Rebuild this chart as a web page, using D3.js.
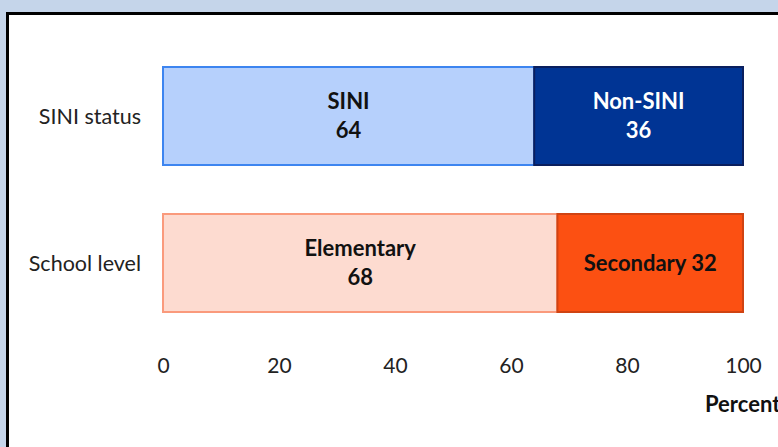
<!DOCTYPE html>
<html><head><meta charset="utf-8">
<script src="https://cdn.jsdelivr.net/npm/d3@7"></script>
<style>
html,body{margin:0;padding:0;background:#c5d5ea;}
svg{display:block;}
</style></head>
<body>
<svg id="chart" width="778" height="447"></svg>
<script>
const categories = ["SINI status", "School level"];
const firstLabels = ["SINI", "Elementary"];
const firstValues = [64, 68];
const secondLabels = ["Non-SINI", "Secondary"];
const secondValues = [36, 32];
const tickValues = [0, 20, 40, 60, 80, 100];
const axisTitle = "Percent";

const fills = [["#b6d0fc", "#003494"], ["#fddbd0", "#fc5012"]];
const strokes = [["#3d85f0", "#0a1f5e"], ["#fa9a7c", "#d04312"]];
const textColors = [["#111", "#fff"], ["#111", "#111"]];

const svg = d3.select("#chart");
const font = "Lato, 'Open Sans', sans-serif";

// panel
svg.append("rect").attr("x", 7.5).attr("y", 13.5).attr("width", 800).attr("height", 500)
  .attr("fill", "#fff").attr("stroke", "#000").attr("stroke-width", 3);

const x = d3.scaleLinear().domain([0, 100]).range([163, 743]);
const y = d3.scaleBand().domain(categories).range([67, 312]).paddingInner(1 / 3).paddingOuter(0);

const rows = categories.map((c, i) => ({
  cat: c, i,
  segs: [
    {label: firstLabels[i], v0: 0, v1: firstValues[i], k: 0},
    {label: secondLabels[i], v0: firstValues[i], v1: firstValues[i] + secondValues[i], k: 1}
  ]
}));

const g = svg.append("g");
rows.forEach(r => {
  const yy = y(r.cat), h = y.bandwidth();
  r.segs.forEach(s => {
    g.append("rect")
      .attr("x", x(s.v0)).attr("y", yy)
      .attr("width", x(s.v1) - x(s.v0)).attr("height", h)
      .attr("fill", fills[r.i][s.k]).attr("stroke", strokes[r.i][s.k]).attr("stroke-width", 2);
    const cx = (x(s.v0) + x(s.v1)) / 2, cy = yy + h / 2;
    const val = s.v1 - s.v0;
    const t = g.append("text").attr("x", cx).attr("text-anchor", "middle")
      .attr("font-family", font).attr("font-weight", "bold").attr("font-size", 22)
      .attr("fill", textColors[r.i][s.k]);
    if (r.i === 1 && s.k === 1) {
      t.attr("y", cy).attr("dy", "0.35em").text(s.label + " " + val);
    } else {
      t.append("tspan").attr("x", cx).attr("y", cy - 14.5).attr("dy", "0.35em").text(s.label);
      t.append("tspan").attr("x", cx).attr("y", cy + 14.5).attr("dy", "0.35em").text(val);
    }
  });
  g.append("text").attr("x", 141).attr("y", yy + h / 2).attr("dy", "0.35em")
    .attr("text-anchor", "end").attr("font-family", font).attr("font-size", 21.5)
    .attr("fill", "#222").text(r.cat);
});

const axis = d3.axisBottom(x).tickValues(tickValues).tickSize(0).tickPadding(0);
const ax = svg.append("g").attr("transform", "translate(0,358)").call(axis);
ax.select(".domain").remove();
ax.selectAll("text").attr("font-family", font).attr("font-size", 21).attr("fill", "#222");

svg.append("text").attr("x", 705).attr("y", 412)
  .attr("font-family", font).attr("font-weight", "bold").attr("font-size", 22)
  .attr("fill", "#111").text(axisTitle);
</script>
</body></html>
